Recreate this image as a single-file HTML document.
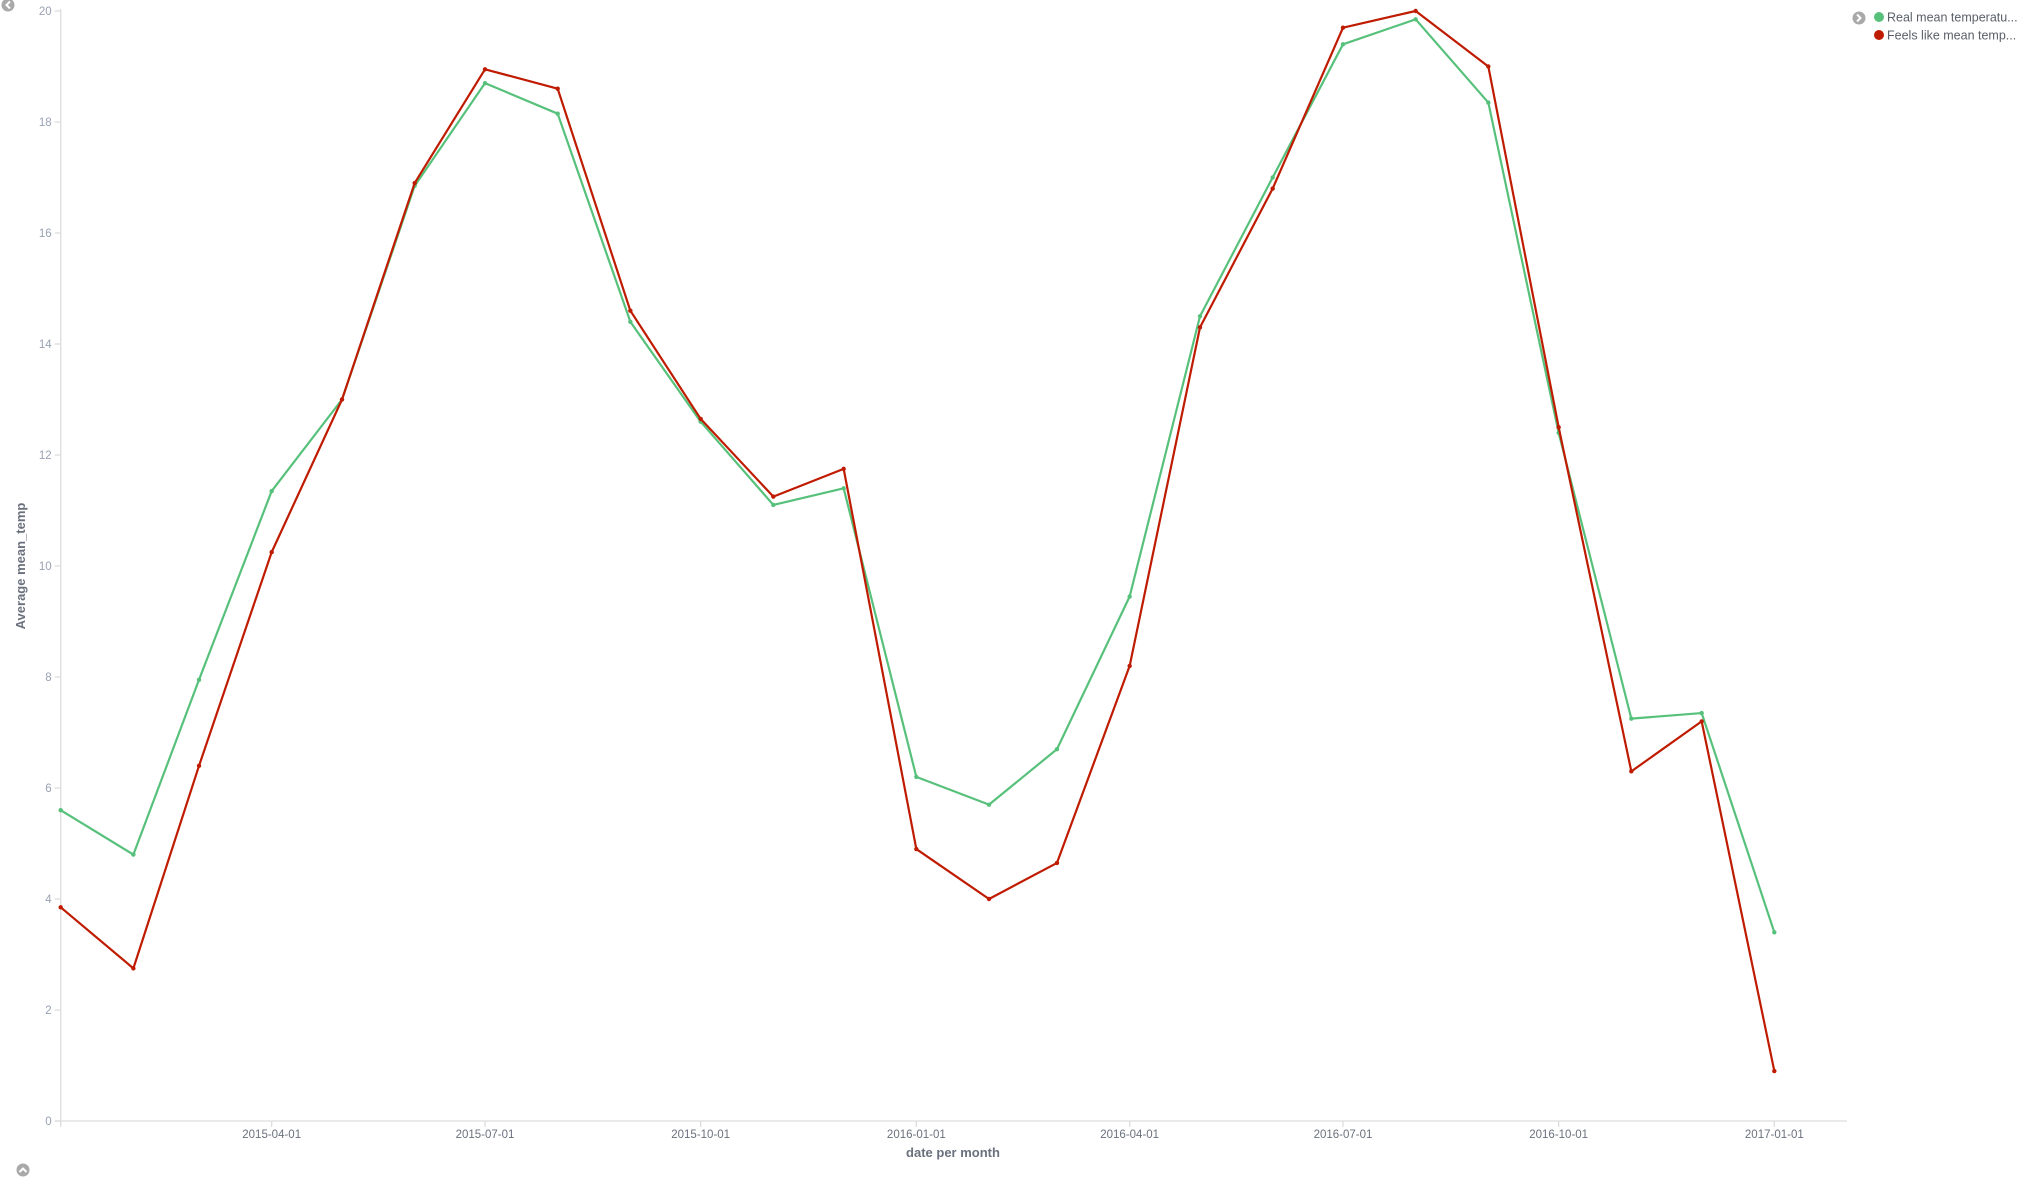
<!DOCTYPE html>
<html><head><meta charset="utf-8"><style>
body{margin:0;background:#fff;width:2024px;height:1182px;overflow:hidden;font-family:"Liberation Sans",sans-serif}
svg text{font-family:"Liberation Sans",sans-serif}
</style></head><body>
<svg id="chart" width="2024" height="1182"></svg>
<script>
const months=["2015-01-01","2015-02-01","2015-03-01","2015-04-01","2015-05-01","2015-06-01","2015-07-01","2015-08-01","2015-09-01","2015-10-01","2015-11-01","2015-12-01","2016-01-01","2016-02-01","2016-03-01","2016-04-01","2016-05-01","2016-06-01","2016-07-01","2016-08-01","2016-09-01","2016-10-01","2016-11-01","2016-12-01","2017-01-01"];
const realTemp=[5.6,4.8,7.95,11.35,13.0,16.85,18.7,18.15,14.4,12.6,11.1,11.4,6.2,5.7,6.7,9.45,14.5,17.0,19.4,19.85,18.35,12.4,7.25,7.35,3.4];
const feelsTemp=[3.85,2.75,6.4,10.25,13.0,16.9,18.95,18.6,14.6,12.65,11.25,11.75,4.9,4.0,4.65,8.2,14.3,16.8,19.7,20.0,19.0,12.5,6.3,7.2,0.9];
const yTicks=[0,2,4,6,8,10,12,14,16,18,20];
const xTicks=["2015-04-01","2015-07-01","2015-10-01","2016-01-01","2016-04-01","2016-07-01","2016-10-01","2017-01-01"];
const svg=document.getElementById('chart');
const NS="http://www.w3.org/2000/svg";
const X0=60.7,X1=1847,Y0=1121,Y1=11;
const t0=Date.parse("2015-01-01"),t1=Date.parse("2017-02-01");
const x=d=>X0+(Date.parse(d)-t0)/(t1-t0)*(X1-X0);
const y=v=>Y0-v/20*(Y0-Y1);
function mk(tag,attrs,parent){const e=document.createElementNS(NS,tag);for(const k in attrs)e.setAttribute(k,attrs[k]);(parent||svg).appendChild(e);return e;}
const ax=mk('line',{x1:X0,y1:Y1-2,x2:X0,y2:Y0+6,stroke:'#ddd','stroke-width':1.3});


const bx=mk('line',{x1:X0-6,y1:Y0,x2:X1,y2:Y0,stroke:'#ddd','stroke-width':1.3});


yTicks.forEach(v=>{
 const l=mk('line',{x1:X0-6,x2:X0,y1:y(v),y2:y(v),stroke:'#ddd','stroke-width':1.3});
 
 
 const t=mk('text',{x:X0-9,y:y(v)+4,'text-anchor':'end','font-size':11.5,fill:'#98a2b3'});
 t.textContent=v;
 
 
});
xTicks.forEach(d=>{
 const l=mk('line',{x1:x(d),x2:x(d),y1:Y0,y2:Y0+6,stroke:'#ddd','stroke-width':1.3});
 
 
 const t=mk('text',{x:x(d),y:Y0+17,'text-anchor':'middle','font-size':11.5,fill:'#6a717d'});
 t.textContent=d;
 
 
});
const xt=mk('text',{x:953,y:1157,'text-anchor':'middle','font-size':13,'font-weight':'bold',fill:'#6a717d'});
xt.textContent='date per month';


const yt=mk('text',{x:0,y:0,transform:'translate(25,566) rotate(-90)','text-anchor':'middle','font-size':13,'font-weight':'bold',fill:'#6a717d'});
yt.textContent='Average mean_temp';


function series(vals,color,name){
 const p=mk('polyline',{points:vals.map((v,i)=>x(months[i])+','+y(v)).join(' '),fill:'none',stroke:color,'stroke-width':2.2,'stroke-linejoin':'round'});
 
 
 vals.forEach((v,i)=>{
  const c=mk('circle',{cx:x(months[i]),cy:y(v),r:2.2,fill:color});
  
  
 });
}
series(realTemp,'#57c17b','real-mean-temp');
series(feelsTemp,'#bf1b00','feels-like-temp');
const lg=[['Real mean temperatu...','#57c17b',17],['Feels like mean temp...','#bf1b00',35]];
lg.forEach(([txt,col,yy])=>{
 const c=mk('circle',{cx:1879,cy:yy,r:5,fill:col});
 
 
 const t=mk('text',{x:1887,y:yy+4.5,'font-size':12.5,fill:'#5a5f68'});
 t.textContent=txt;
 
 
});
function icon(cx,cy,name,path){
 const g=mk('g',{});
 
 
 mk('circle',{cx:cx,cy:cy,r:6.5,fill:'#a9a9a9'},g);
 mk('path',{d:path,stroke:'#fff','stroke-width':2,fill:'none'},g);
}
icon(1859,18,'legend-toggle',`M1857,14.5 l3.5,3.5 l-3.5,3.5`);
icon(8,5,'collapse-left-button',`M10,1.5 l-3.5,3.5 l3.5,3.5`);
icon(23,1170,'collapse-bottom-button',`M19.5,1172 l3.5,-3.5 l3.5,3.5`);
</script>
</body></html>
